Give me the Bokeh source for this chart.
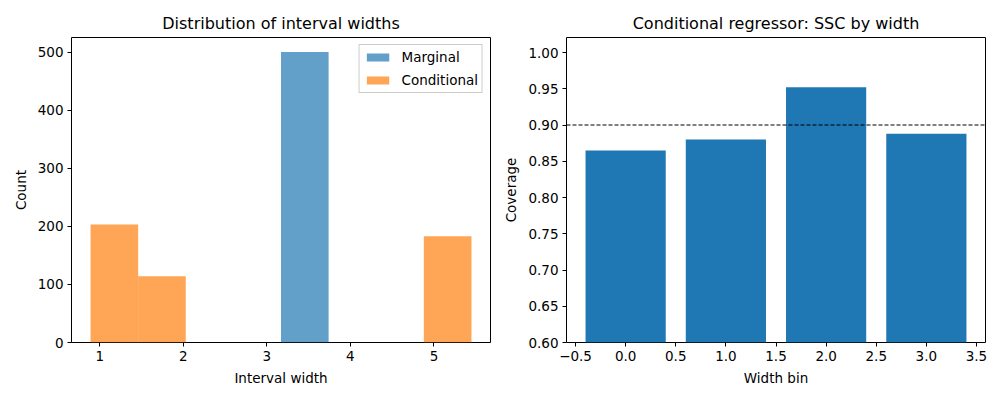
from bokeh.plotting import figure
from bokeh.layouts import row
from bokeh.models import ColumnDataSource, Range1d, FixedTicker, Span, Legend, LegendItem
from bokeh.embed import file_html
from bokeh.resources import INLINE

# ---- data ----
bin_edges = [0.889, 1.459, 2.029, 2.599, 3.169, 3.739, 4.309, 4.879, 5.449]
marginal_counts = [0, 0, 0, 0, 500, 0, 0, 0]
conditional_counts = [203, 114, 0, 0, 0, 0, 0, 183]

width_bins = [0, 1, 2, 3]
coverage = [0.865, 0.880, 0.952, 0.888]
target_coverage = 0.90

left_x_ticks = [1, 2, 3, 4, 5]
left_y_ticks = [0, 100, 200, 300, 400, 500]
right_x_ticks = [-0.5, 0.0, 0.5, 1.0, 1.5, 2.0, 2.5, 3.0, 3.5]
right_y_ticks = [0.60, 0.65, 0.70, 0.75, 0.80, 0.85, 0.90, 0.95, 1.00]

FONT = "DejaVu Sans"
BLUE = "#1f77b4"
ORANGE = "#ff7f0e"


def style(p, xlabel, ylabel):
    p.title.text_font = FONT
    p.title.text_font_size = "16px"
    p.title.text_font_style = "normal"
    p.title.align = "center"
    p.title.text_color = "#000000"
    p.outline_line_color = "black"
    p.outline_line_width = 1
    p.outline_line_alpha = 1
    p.xgrid.visible = False
    p.ygrid.visible = False
    for ax in (p.xaxis[0], p.yaxis[0]):
        ax.axis_line_color = None
        ax.major_tick_in = 0
        ax.major_tick_out = 4
        ax.minor_tick_line_color = None
        ax.major_tick_line_color = "black"
        ax.major_label_text_font = FONT
        ax.major_label_text_font_size = "13.5px"
        ax.major_label_text_color = "black"
        ax.axis_label_text_font = FONT
        ax.axis_label_text_font_size = "13.5px"
        ax.axis_label_text_font_style = "normal"
        ax.axis_label_text_color = "black"
        ax.axis_label_standoff = 6
    p.xaxis[0].axis_label = xlabel
    p.yaxis[0].axis_label = ylabel
    p.xaxis[0].major_label_standoff = 4
    p.yaxis[0].major_label_standoff = 4


# ---- left: histogram ----
hist_src = ColumnDataSource(dict(
    left=bin_edges[:-1], right=bin_edges[1:],
    marg=marginal_counts, cond=conditional_counts,
))

p1 = figure(frame_width=419, frame_height=305, output_backend="svg", toolbar_location=None,
            title="Distribution of interval widths",
            x_range=Range1d(0.661, 5.677), y_range=Range1d(0, 525),
            min_border_left=71, min_border_right=10, min_border_top=37, min_border_bottom=58)
r_m = p1.quad(left="left", right="right", bottom=0, top="marg", source=hist_src,
              fill_color=BLUE, fill_alpha=0.7, line_color=None)
r_c = p1.quad(left="left", right="right", bottom=0, top="cond", source=hist_src,
              fill_color=ORANGE, fill_alpha=0.7, line_color=None)
style(p1, "Interval width", "Count")
p1.xaxis[0].ticker = FixedTicker(ticks=left_x_ticks)
p1.yaxis[0].ticker = FixedTicker(ticks=left_y_ticks)

legend = Legend(items=[LegendItem(label="Marginal", renderers=[r_m]),
                       LegendItem(label="Conditional", renderers=[r_c])],
                location="top_right")
legend.label_text_font = FONT
legend.label_text_font_size = "13.5px"
legend.label_text_color = "black"
legend.glyph_width = 28
legend.glyph_height = 10
legend.label_height = 14
legend.spacing = 7
legend.padding = 4
legend.margin = 7
legend.label_standoff = 10
legend.border_line_color = "#cccccc"
legend.border_line_alpha = 1
legend.background_fill_alpha = 0.8
p1.add_layout(legend)

# ---- right: coverage bars ----
bar_src = ColumnDataSource(dict(x=width_bins, top=coverage))
p2 = figure(frame_width=419, frame_height=305, output_backend="svg", toolbar_location=None,
            title="Conditional regressor: SSC by width",
            x_range=Range1d(-0.59, 3.59), y_range=Range1d(0.6, 1.0207),
            min_border_left=65, min_border_right=16, min_border_top=37, min_border_bottom=58)
p2.vbar(x="x", top="top", bottom=0, width=0.8, source=bar_src,
        fill_color=BLUE, line_color=None)
p2.add_layout(Span(location=target_coverage, dimension="width", line_color="black",
                   line_dash="4 2", line_width=1))
style(p2, "Width bin", "Coverage")
p2.xaxis[0].ticker = FixedTicker(ticks=right_x_ticks)
p2.yaxis[0].ticker = FixedTicker(ticks=right_y_ticks)
p2.xaxis[0].major_label_overrides = {t: ("\u2212" + f"{abs(t):.1f}" if t < 0 else f"{t:.1f}") for t in right_x_ticks}
p2.yaxis[0].major_label_overrides = {t: f"{t:.2f}" for t in right_y_ticks}

layout = row(p1, p2)
open("out.html", "w").write(file_html(layout, INLINE))
